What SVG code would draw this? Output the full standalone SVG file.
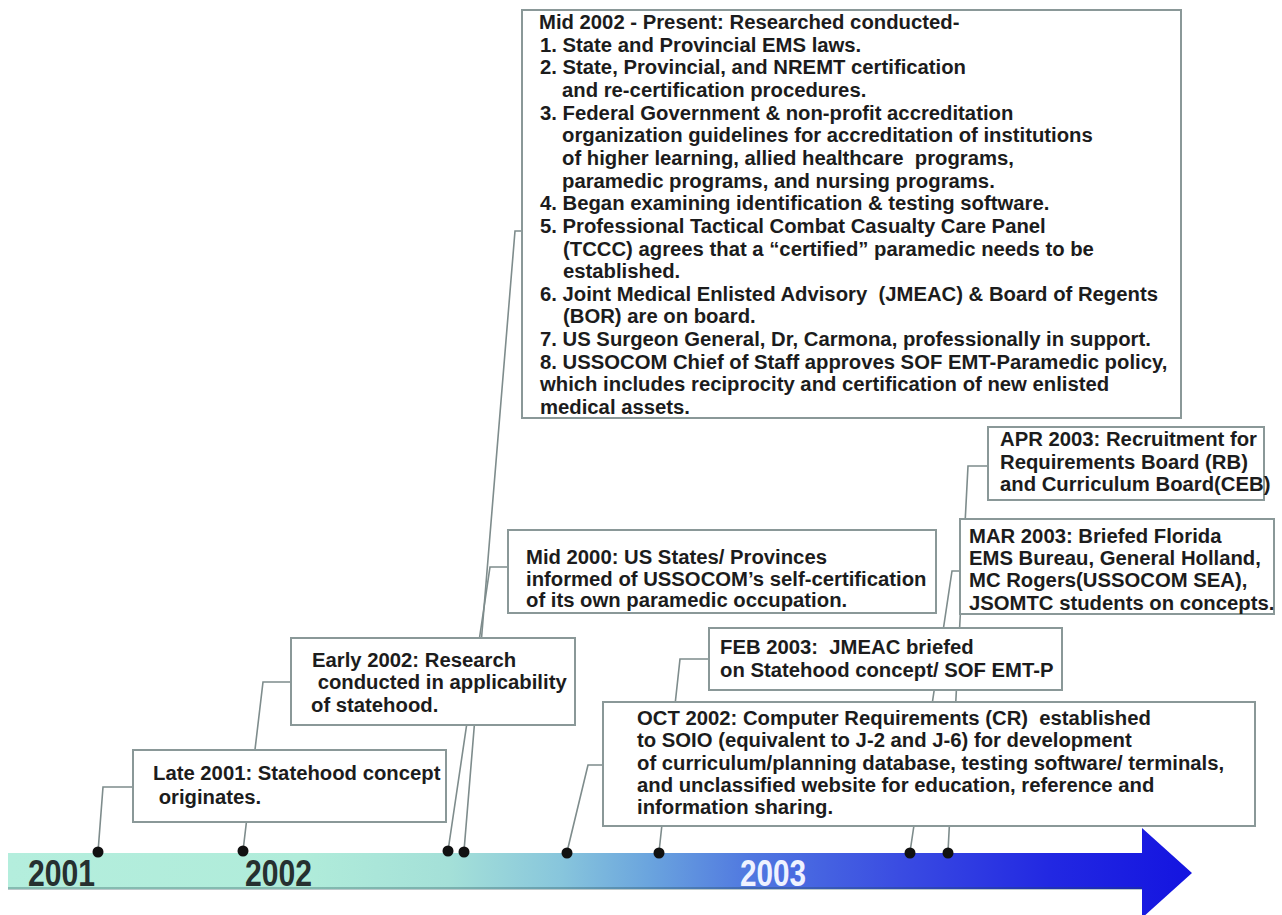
<svg xmlns="http://www.w3.org/2000/svg" width="1282" height="915" viewBox="0 0 1282 915">
<defs>
<style>
.box{fill:#ffffff;stroke:#8a9898;stroke-width:2}
.t{font-family:"Liberation Sans",Arial,Helvetica,sans-serif;font-weight:bold;font-size:20.3px;fill:#1c1c1c;white-space:pre}
.c{fill:none;stroke:#7e8c8c;stroke-width:1.6}
.dot{fill:#111111}
.yr{font-family:"Liberation Sans",Arial,Helvetica,sans-serif;font-weight:bold;font-size:36px}
</style>
<linearGradient id="barg" gradientUnits="userSpaceOnUse" x1="8" y1="0" x2="1192" y2="0">
<stop offset="0" stop-color="#b4eedd"/>
<stop offset="0.25" stop-color="#b0ecda"/>
<stop offset="0.373" stop-color="#a4e0d8"/>
<stop offset="0.466" stop-color="#88c6dc"/>
<stop offset="0.542" stop-color="#6aa4de"/>
<stop offset="0.626" stop-color="#5078e0"/>
<stop offset="0.753" stop-color="#3a4ce2"/>
<stop offset="0.88" stop-color="#2228e2"/>
<stop offset="1" stop-color="#1414e0"/>
</linearGradient>
</defs>
<rect width="1282" height="915" fill="#ffffff"/>

<g id="timeline">
<polygon points="8,853 1142,853 1142,828 1192,873 1142,918 1142,889 8,889" fill="url(#barg)"/>
<line x1="8" y1="888.5" x2="1142" y2="888.5" stroke="#1e4a50" stroke-opacity="0.3" stroke-width="3"/>
<text class="yr" x="28" y="886" textLength="67" lengthAdjust="spacingAndGlyphs" fill="#263030">2001</text>
<text class="yr" x="245" y="886" textLength="67" lengthAdjust="spacingAndGlyphs" fill="#263030">2002</text>
<text class="yr" x="740" y="886" textLength="66" lengthAdjust="spacingAndGlyphs" fill="#eef2ff">2003</text>
</g>

<g id="connectors">
<polyline class="c" points="98,852 103,787 133,787"/>
<polyline class="c" points="243,851 263,682 291,682"/>
<polyline class="c" points="448,851 490,567 508,567"/>
<polyline class="c" points="464,851 515,231 522,231"/>
<polyline class="c" points="567,852 588,765 603,765"/>
<polyline class="c" points="659,852 680,659 709,659"/>
<polyline class="c" points="910,852 952,571 960,571"/>
<polyline class="c" points="948,852 968,466 988,466"/>
<circle class="dot" cx="98" cy="852" r="5.5"/>
<circle class="dot" cx="243" cy="851" r="5.5"/>
<circle class="dot" cx="448" cy="851" r="5.5"/>
<circle class="dot" cx="464" cy="852" r="5.5"/>
<circle class="dot" cx="567" cy="853" r="5.5"/>
<circle class="dot" cx="659" cy="853" r="5.5"/>
<circle class="dot" cx="910" cy="853" r="5.5"/>
<circle class="dot" cx="948" cy="853" r="5.5"/>
</g>

<g id="box-mid2002">
<rect class="box" x="522" y="10" width="659" height="408"/>
<text class="t" x="539" y="29">Mid 2002 - Present: Researched conducted-</text>
<text class="t" x="540" y="51.6">1. State and Provincial EMS laws.</text>
<text class="t" x="540" y="74.3">2. State, Provincial, and NREMT certification</text>
<text class="t" x="562" y="96.9">and re-certification procedures.</text>
<text class="t" x="540" y="119.6">3. Federal Government &amp; non-profit accreditation</text>
<text class="t" x="562" y="142.2">organization guidelines for accreditation of institutions</text>
<text class="t" x="562" y="164.9">of higher learning, allied healthcare  programs,</text>
<text class="t" x="562" y="187.5">paramedic programs, and nursing programs.</text>
<text class="t" x="540" y="210.2">4. Began examining identification &amp; testing software.</text>
<text class="t" x="540" y="232.8">5. Professional Tactical Combat Casualty Care Panel</text>
<text class="t" x="563" y="255.5">(TCCC) agrees that a “certified” paramedic needs to be</text>
<text class="t" x="563" y="278.1">established.</text>
<text class="t" x="540" y="300.8">6. Joint Medical Enlisted Advisory  (JMEAC) &amp; Board of Regents</text>
<text class="t" x="563" y="323.4">(BOR) are on board.</text>
<text class="t" x="540" y="346.1">7. US Surgeon General, Dr, Carmona, professionally in support.</text>
<text class="t" x="540" y="368.7">8. USSOCOM Chief of Staff approves SOF EMT-Paramedic policy,</text>
<text class="t" x="540" y="391.4">which includes reciprocity and certification of new enlisted</text>
<text class="t" x="540" y="414">medical assets.</text>
</g>

<g id="box-apr2003">
<rect class="box" x="988" y="427" width="276" height="73"/>
<text class="t" x="1000" y="446">APR 2003: Recruitment for</text>
<text class="t" x="1000" y="469">Requirements Board (RB)</text>
<text class="t" x="1000" y="491">and Curriculum Board(CEB)</text>
</g>

<g id="box-mar2003">
<rect class="box" x="960" y="519" width="314" height="95"/>
<text class="t" x="969" y="543">MAR 2003: Briefed Florida</text>
<text class="t" x="969" y="565">EMS Bureau, General Holland,</text>
<text class="t" x="969" y="587">MC Rogers(USSOCOM SEA),</text>
<text class="t" x="969" y="610">JSOMTC students on concepts.</text>
</g>

<g id="box-mid2000">
<rect class="box" x="508" y="530" width="428" height="83"/>
<text class="t" x="526" y="564">Mid 2000: US States/ Provinces</text>
<text class="t" x="526" y="586">informed of USSOCOM’s self-certification</text>
<text class="t" x="526" y="607">of its own paramedic occupation.</text>
</g>

<g id="box-early2002">
<rect class="box" x="291" y="638" width="284" height="87"/>
<text class="t" x="312" y="667">Early 2002: Research</text>
<text class="t" x="312" y="689"> conducted in applicability</text>
<text class="t" x="311" y="712">of statehood.</text>
</g>

<g id="box-late2001">
<rect class="box" x="133" y="750" width="313" height="72"/>
<text class="t" x="153" y="780">Late 2001: Statehood concept</text>
<text class="t" x="153" y="804"> originates.</text>
</g>

<g id="box-feb2003">
<rect class="box" x="709" y="628" width="353" height="62"/>
<text class="t" x="720" y="654">FEB 2003:  JMEAC briefed</text>
<text class="t" x="720" y="677">on Statehood concept/ SOF EMT-P</text>
</g>

<g id="box-oct2002">
<rect class="box" x="603" y="702" width="652" height="124"/>
<text class="t" x="637" y="725">OCT 2002: Computer Requirements (CR)  established</text>
<text class="t" x="637" y="747">to SOIO (equivalent to J-2 and J-6) for development</text>
<text class="t" x="637" y="770">of curriculum/planning database, testing software/ terminals,</text>
<text class="t" x="637" y="792">and unclassified website for education, reference and</text>
<text class="t" x="637" y="814">information sharing.</text>
</g>
</svg>
